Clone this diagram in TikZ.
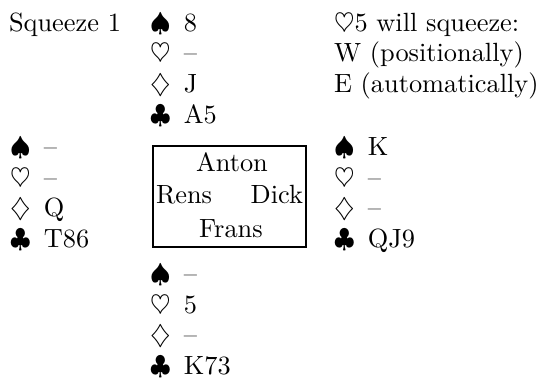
\documentclass[tikz,border=0pt]{standalone}
\renewcommand{\arraystretch}{0.98}
\newcommand{\bridgehand}[4]{\begin{tabular}[t]{@{}l@{\hspace{5.1pt}}l@{}}$\spadesuit$ & #1\\ $\heartsuit$ & #2\\ $\diamondsuit$ & #3\\ $\clubsuit$ & #4\end{tabular}}
\begin{document}
\begin{tikzpicture}[x=0.3795pt,y=-0.3795pt,
  txt/.style={inner sep=0pt,outer sep=0pt,anchor=base west},
  ctxt/.style={inner sep=0pt,outer sep=0pt,anchor=base},
  tablebox/.style={draw,line width=0.76pt,inner sep=0pt,minimum width=58.2pt,minimum height=38.5pt}]
\useasboundingbox (0,0) rectangle (542,378);
\node[txt] (title) at (9,31) {Squeeze 1};
\node[txt] (N) at (150,31) {\bridgehand{8}{--}{J}{A5}};
\node[txt] (W) at (10,155) {\bridgehand{--}{--}{Q}{T86}};
\node[txt] (E) at (334,155) {\bridgehand{K}{--}{--}{QJ9}};
\node[txt] (S) at (150,282) {\bridgehand{--}{5}{--}{K73}};
\node[txt] (note) at (334,31) {\begin{tabular}[t]{@{}l@{}}$\heartsuit$5 will squeeze:\\ W (positionally)\\ E (automatically)\end{tabular}};
\node[tablebox] (table) at (229.5,196.5) {};
\node[ctxt] (anton) at (232,171) {Anton};
\node[txt] (rens) at (156,203) {Rens};
\node[inner sep=0pt,outer sep=0pt,anchor=base east] (dick) at (303,203) {Dick};
\node[ctxt] (frans) at (231,237) {Frans};
\end{tikzpicture}
\end{document}
